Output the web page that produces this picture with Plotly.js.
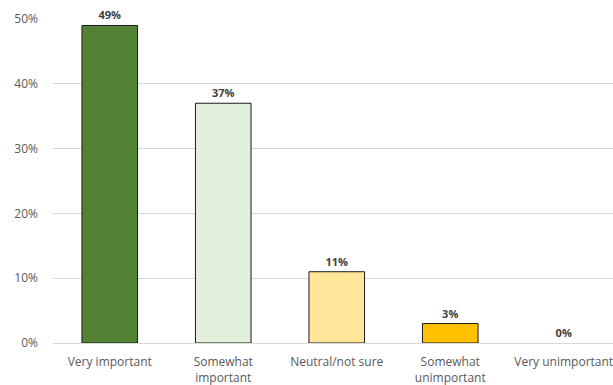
<!DOCTYPE html>
<html>
<head>
<meta charset="utf-8">
<script src="https://cdn.plot.ly/plotly-3.0.1.min.js"></script>
<style>
  html, body { margin: 0; padding: 0; background: #fff; overflow: hidden; }
  #chart { width: 613px; height: 385px; }
</style>
</head>
<body>
<div id="chart"></div>
<script>
// Survey answers: share of respondents per importance level
const categories = ["Very important", "Somewhat<br>important", "Neutral/not sure", "Somewhat<br>unimportant", "Very unimportant"];
const shares = [49, 37, 11, 3, 0];
const barColors = ["#548235", "#E2EFDA", "#FFE699", "#FFC000", "#FFC000"];
const yTicks = [0, 10, 20, 30, 40, 50];
const yTickLabels = ["0%", "10%", "20%", "30%", "40%", "50%"];

const trace = {
  type: "bar",
  x: categories.map((_, i) => i),
  y: shares,
  text: shares.map(v => "<b>" + v + "%</b>"),
  textposition: "outside",
  cliponaxis: false,
  textfont: { family: "Open Sans, sans-serif", size: 11, color: "#404040" },
  marker: {
    color: barColors,
    // no outline on an empty bar
    line: { color: "#1a1a1a", width: shares.map(v => (v > 0 ? 1 : 0)) }
  },
  hoverinfo: "skip"
};

const layout = {
  width: 613,
  height: 385,
  margin: { l: 53, r: 0, t: 19, b: 42 },
  paper_bgcolor: "#ffffff",
  plot_bgcolor: "#ffffff",
  bargap: 0.51,
  showlegend: false,
  font: { family: "Open Sans, sans-serif", size: 12, color: "#595959" },
  xaxis: {
    range: [-0.5, 4.434],
    tickmode: "array",
    tickvals: categories.map((_, i) => i),
    ticktext: categories,
    showgrid: false,
    zeroline: false,
    showline: false,
    ticks: "",
    ticklabelstandoff: 10,
    ticklabeloverflow: "allow",
    tickfont: { size: 12, color: "#595959" },
    fixedrange: true
  },
  yaxis: {
    range: [0, 50],
    tickmode: "array",
    tickvals: yTicks,
    ticktext: yTickLabels,
    showgrid: true,
    gridcolor: "#D9D9D9",
    gridwidth: 1,
    zeroline: true,
    zerolinecolor: "#D9D9D9",
    zerolinewidth: 1,
    showline: false,
    ticks: "",
    ticklabelstandoff: 14,
    tickfont: { size: 12, color: "#595959" },
    fixedrange: true
  }
};

Plotly.newPlot("chart", [trace], layout, { displayModeBar: false, staticPlot: true });
</script>
</body>
</html>
